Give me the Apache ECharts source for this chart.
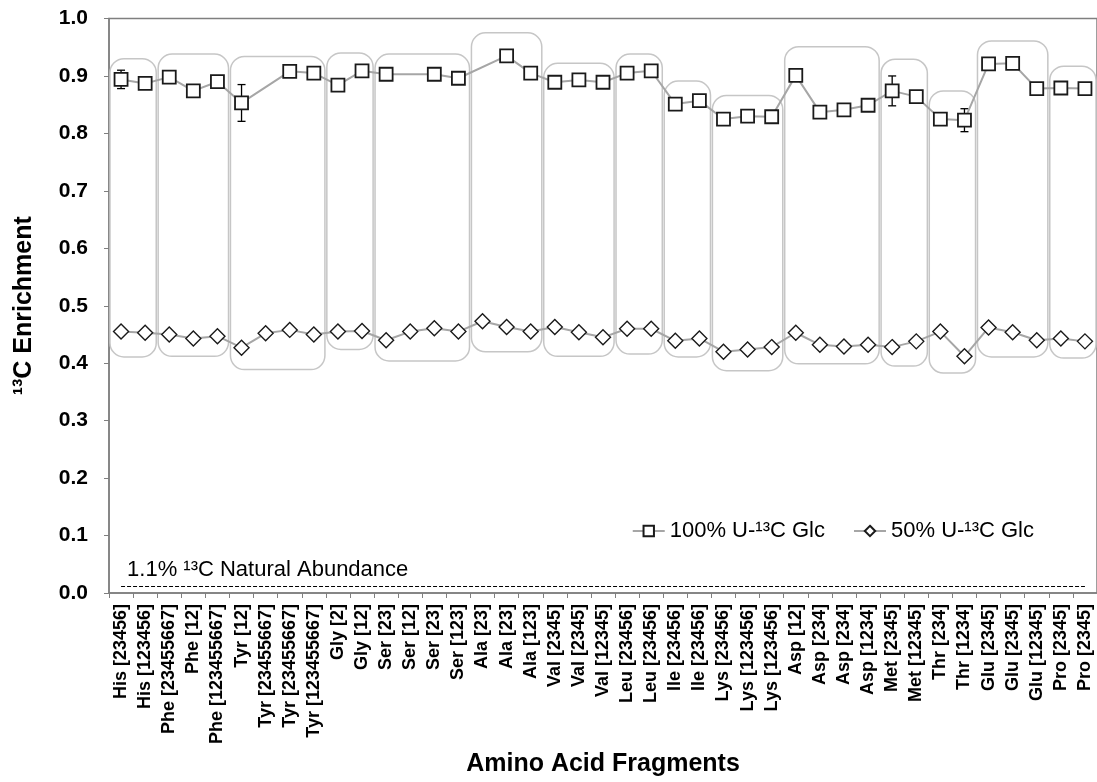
<!DOCTYPE html>
<html>
<head>
<meta charset="utf-8">
<script src="https://cdn.jsdelivr.net/npm/echarts@6/dist/echarts.min.js"></script>
<style>
  html, body { margin: 0; padding: 0; background: #fff; }
  #chart { width: 1097px; height: 782px; }
</style>
</head>
<body>
<div id="chart"></div>
<script>
// ---------- data ----------
const categories = [
  'His [23456]', 'His [123456]',
  'Phe [23455667]', 'Phe [12]', 'Phe [123455667]',
  'Tyr [12]', 'Tyr [23455667]', 'Tyr [23455667]', 'Tyr [123455667]',
  'Gly [2]', 'Gly [12]',
  'Ser [23]', 'Ser [12]', 'Ser [23]', 'Ser [123]',
  'Ala [23]', 'Ala [23]', 'Ala [123]',
  'Val [2345]', 'Val [2345]', 'Val [12345]',
  'Leu [23456]', 'Leu [23456]',
  'Ile [23456]', 'Ile [23456]',
  'Lys [23456]', 'Lys [123456]', 'Lys [123456]',
  'Asp [12]', 'Asp [234]', 'Asp [234]', 'Asp [1234]',
  'Met [2345]', 'Met [12345]',
  'Thr [234]', 'Thr [1234]',
  'Glu [2345]', 'Glu [2345]', 'Glu [12345]',
  'Pro [2345]', 'Pro [2345]'
];
const enrich100 = [
  0.894, 0.887,
  0.898, 0.874, 0.890,
  0.853, null, 0.908, 0.905,
  0.884, 0.909,
  0.903, null, 0.903, 0.896,
  null, 0.935, 0.905,
  0.889, 0.893, 0.889,
  0.905, 0.909,
  0.851, 0.857,
  0.825, 0.830, 0.829,
  0.901, 0.837, 0.841, 0.849,
  0.874, 0.864,
  0.825, 0.823,
  0.921, 0.922, 0.878,
  0.879, 0.878
];
const err100 = [
  0.016, null,
  null, null, null,
  0.032, null, null, null,
  null, null,
  null, null, null, null,
  null, null, null,
  null, null, null,
  null, null,
  null, null,
  null, null, 0.004,
  null, null, 0.004, null,
  0.026, 0.004,
  null, 0.020,
  null, null, null,
  null, null
];
const enrich50 = [
  0.455, 0.453,
  0.450, 0.443, 0.447,
  0.427, 0.452, 0.458, 0.450,
  0.455, 0.456,
  0.440, 0.455, 0.461, 0.455,
  0.473, 0.463, 0.455,
  0.463, 0.454, 0.445,
  0.460, 0.460,
  0.439, 0.443,
  0.420, 0.424, 0.428,
  0.453, 0.432, 0.429, 0.432,
  0.428, 0.438,
  0.455, 0.412,
  0.462, 0.454, 0.440,
  0.443, 0.438
];
const naturalAbundance = 0.011;
// amino-acid groups (first/last category index, box top/bottom in enrichment units)
const groupStart  = [0, 2, 5, 9, 11, 15, 18, 21, 23, 25, 28, 32, 34, 36, 39];
const groupEnd    = [1, 4, 8, 10, 14, 17, 20, 22, 24, 27, 31, 33, 35, 38, 40];
const groupTop    = [0.930, 0.938, 0.934, 0.940, 0.938, 0.975, 0.922, 0.938, 0.891, 0.866, 0.951, 0.929, 0.874, 0.961, 0.917];
const groupBottom = [0.411, 0.412, 0.389, 0.424, 0.404, 0.420, 0.412, 0.416, 0.411, 0.387, 0.399, 0.395, 0.383, 0.411, 0.409];

const seriesNames = ['100% U-\u00B9\u00B3C Glc', '50% U-\u00B9\u00B3C Glc'];
const yAxisTitle = '\u00B9\u00B3C Enrichment';
const xAxisTitle = 'Amino Acid Fragments';
const abundanceLabel = '1.1% \u00B9\u00B3C Natural Abundance';

// ---------- chart ----------
const FONT = "'Liberation Sans', Arial, sans-serif";
const chart = echarts.init(document.getElementById('chart'), null, { renderer: 'canvas' });

const boxData = groupStart.map((s, i) => [s, groupEnd[i], groupTop[i], groupBottom[i]]);
const errData = [];
err100.forEach((e, i) => {
  if (e != null && enrich100[i] != null) errData.push([i, enrich100[i] - e, enrich100[i] + e]);
});

const option = {
  animation: false,
  backgroundColor: '#fff',
  textStyle: { fontFamily: FONT },
  grid: {
    left: 109, right: -2, top: 18.5, bottom: 175.5,
    show: true, borderColor: '#7f7f7f', borderWidth: 1.5, backgroundColor: 'transparent'
  },
  legend: {
    data: seriesNames,
    right: 58, top: 515,
    itemGap: 28, itemWidth: 32, itemHeight: 13,
    textStyle: { fontSize: 22, color: '#000', fontFamily: FONT },
    selectedMode: false
  },
  xAxis: {
    type: 'category',
    data: categories,
    boundaryGap: true,
    name: xAxisTitle,
    nameLocation: 'middle',
    nameGap: 148,
    nameTextStyle: { fontSize: 25, fontWeight: 'bold', color: '#000', fontFamily: FONT },
    axisLine: { lineStyle: { color: '#7f7f7f', width: 1.5 } },
    axisTick: { show: true, length: 5, alignWithLabel: false, interval: 0, lineStyle: { color: '#7f7f7f' } },
    axisLabel: {
      interval: 0, rotate: 90, margin: 11,
      fontSize: 18, fontWeight: 'bold', color: '#000', fontFamily: FONT
    },
    splitLine: { show: false }
  },
  yAxis: {
    type: 'value',
    min: 0, max: 1, interval: 0.1,
    name: yAxisTitle,
    nameLocation: 'middle',
    nameGap: 72,
    nameTextStyle: { fontSize: 25, fontWeight: 'bold', color: '#000', fontFamily: FONT },
    axisLine: { show: true, lineStyle: { color: '#7f7f7f', width: 1.5 } },
    axisTick: { show: true, length: 5, lineStyle: { color: '#7f7f7f' } },
    axisLabel: {
      margin: 21, fontSize: 21, fontWeight: 'bold', color: '#000', fontFamily: FONT,
      formatter: v => v.toFixed(1)
    },
    splitLine: { show: false }
  },
  series: [
    {
      type: 'custom',
      name: 'groups',
      silent: true,
      z: 1,
      data: boxData,
      encode: { x: [0, 1], y: [2, 3] },
      renderItem: function (params, api) {
        const p0 = api.coord([api.value(0), api.value(2)]);
        const p1 = api.coord([api.value(1), api.value(3)]);
        const bw = api.size([1, 0])[0];
        const x0 = p0[0] - 0.46 * bw;
        const x1 = p1[0] + 0.46 * bw;
        return {
          type: 'rect',
          shape: { x: x0, y: p0[1], width: x1 - x0, height: p1[1] - p0[1], r: 14 },
          style: { fill: 'none', stroke: '#c6c6c6', lineWidth: 1.5 }
        };
      }
    },
    {
      type: 'custom',
      name: 'errors',
      silent: true,
      z: 2,
      data: errData,
      encode: { x: 0, y: [1, 2] },
      renderItem: function (params, api) {
        const lo = api.coord([api.value(0), api.value(1)]);
        const hi = api.coord([api.value(0), api.value(2)]);
        const c = 4;
        const st = { stroke: '#000', lineWidth: 1.3 };
        return {
          type: 'group',
          children: [
            { type: 'line', shape: { x1: lo[0], y1: lo[1], x2: hi[0], y2: hi[1] }, style: st },
            { type: 'line', shape: { x1: lo[0] - c, y1: lo[1], x2: lo[0] + c, y2: lo[1] }, style: st },
            { type: 'line', shape: { x1: hi[0] - c, y1: hi[1], x2: hi[0] + c, y2: hi[1] }, style: st }
          ]
        };
      }
    },
    {
      name: seriesNames[0],
      type: 'line',
      data: enrich100,
      connectNulls: true,
      symbol: 'rect',
      symbolSize: 13,
      z: 5,
      itemStyle: { color: '#fff', borderColor: '#1a1a1a', borderWidth: 1.8 },
      lineStyle: { color: '#a6a6a6', width: 2 }
    },
    {
      name: seriesNames[1],
      type: 'line',
      data: enrich50,
      symbol: 'diamond',
      symbolSize: 15,
      z: 5,
      itemStyle: { color: '#fff', borderColor: '#1a1a1a', borderWidth: 1.4 },
      lineStyle: { color: '#a6a6a6', width: 2 },
      markLine: {
        silent: true,
        symbol: 'none',
        lineStyle: { type: 'dashed', color: '#000', width: 1 },
        label: {
          show: true, position: 'insideStartTop', distance: 6,
          formatter: abundanceLabel,
          fontSize: 22, color: '#000', fontFamily: FONT
        },
        data: [[{ coord: [0, naturalAbundance] }, { coord: [categories.length - 1, naturalAbundance] }]]
      }
    }
  ]
};
chart.setOption(option);
</script>
</body>
</html>
